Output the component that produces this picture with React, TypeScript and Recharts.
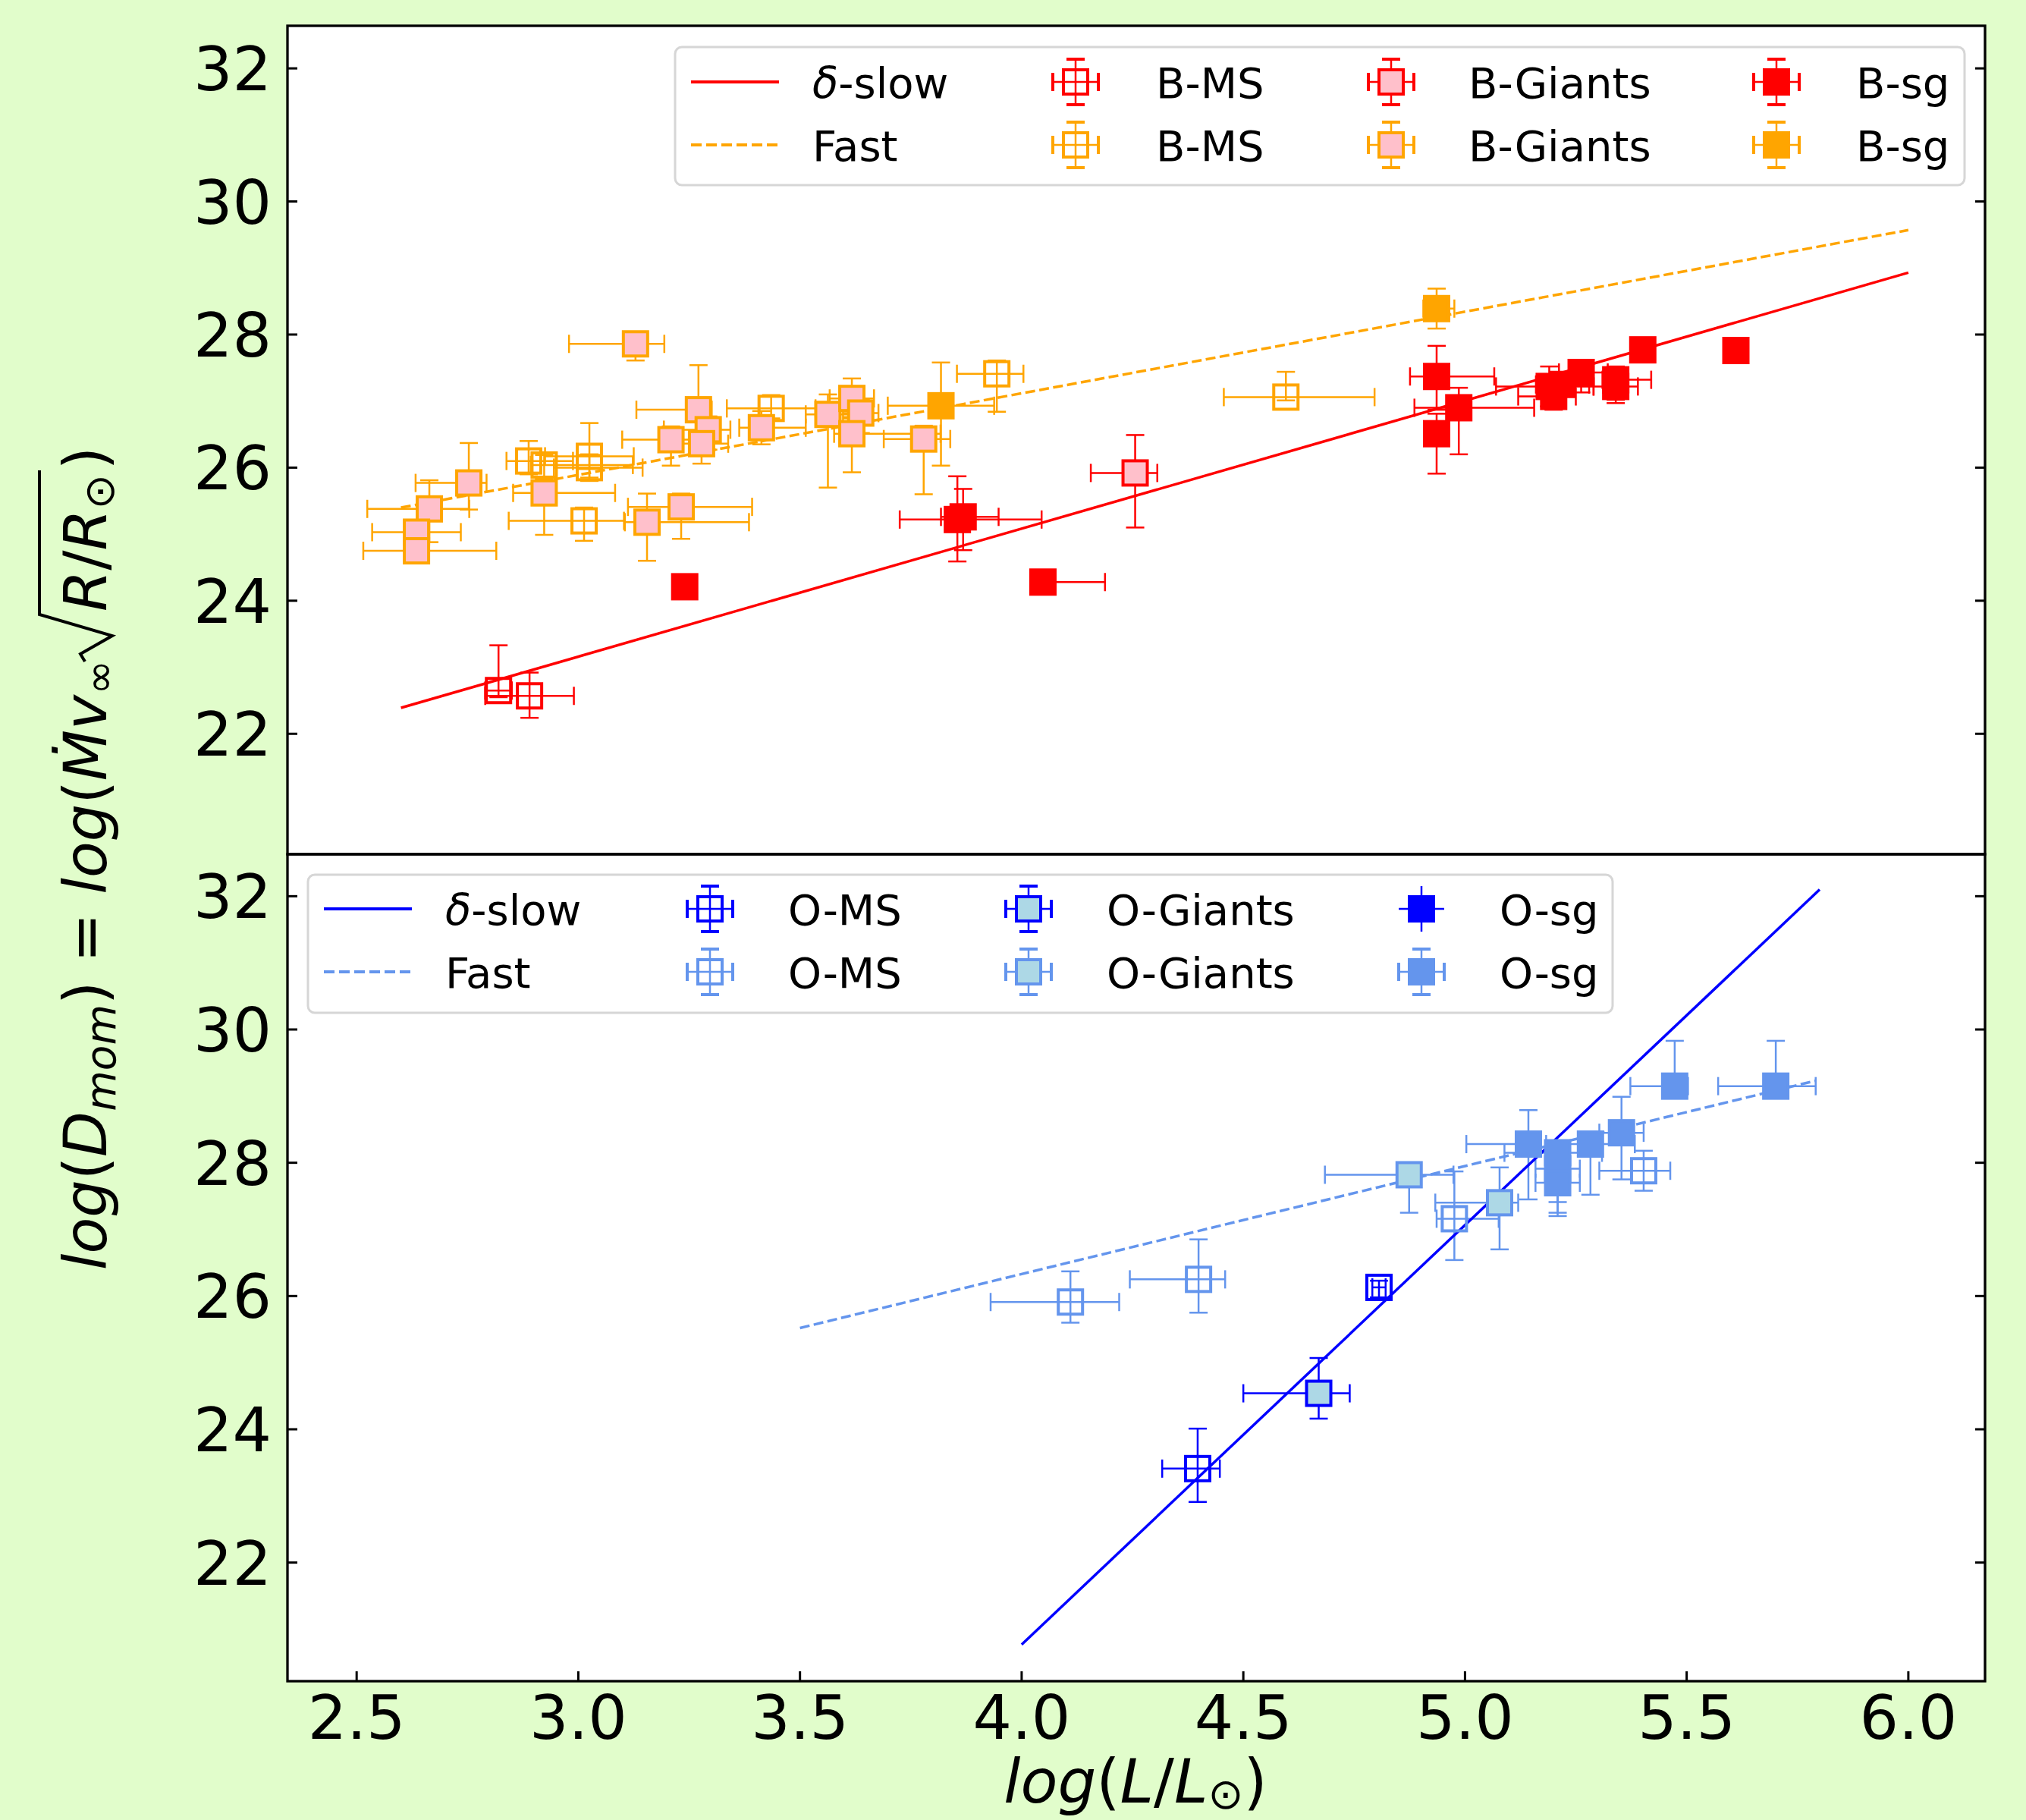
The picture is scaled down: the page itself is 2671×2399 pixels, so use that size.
import React from "react"
import { ScatterChart, Scatter, XAxis, YAxis, ErrorBar } from "recharts"

// x, y, x-err low, x-err high, y-err low, y-err high
type Pt = [number, number, number, number, number, number]

const xTicks = [2.5, 3.0, 3.5, 4.0, 4.5, 5.0, 5.5, 6.0]
const yTicks = [22, 24, 26, 28, 30, 32]

// fitted relations, endpoints
const bSlowFit = [[2.6, 22.39], [6.0, 28.93]]
const bFastFit = [[2.6, 25.4], [6.0, 29.57]]
const oSlowFit = [[4.0, 20.77], [5.8, 32.1]]
const oFastFit = [[3.5, 25.52], [5.79, 29.23]]

const bMsSlow: Pt[] = [
  [2.82, 22.65, 0.03, 0.03, 0.1, 0.68],
  [2.89, 22.57, 0.1, 0.1, 0.33, 0.35],
]
const bGiantSlow: Pt[] = [[4.256, 25.92, 0.1, 0.05, 0.82, 0.57]]
const bSgSlow: Pt[] = [
  [3.24, 24.21, 0, 0, 0, 0],
  [3.855, 25.22, 0.13, 0.19, 0.63, 0.65],
  [3.868, 25.26, 0.05, 0.08, 0.5, 0.42],
  [4.048, 24.28, 0, 0.14, 0, 0],
  [4.936, 27.37, 0.06, 0.13, 0.5, 0.46],
  [4.936, 26.51, 0.02, 0.02, 0.6, 0.3],
  [4.986, 26.9, 0.1, 0.17, 0.7, 0.3],
  [5.19, 27.22, 0.12, 0.1, 0.3, 0.3],
  [5.2, 27.07, 0.08, 0.05, 0.2, 0.2],
  [5.22, 27.25, 0.06, 0.06, 0.15, 0.15],
  [5.262, 27.43, 0.05, 0.06, 0.3, 0.1],
  [5.34, 27.32, 0.03, 0.08, 0.35, 0.2],
  [5.34, 27.22, 0.05, 0.05, 0.2, 0.1],
  [5.401, 27.77, 0, 0, 0, 0],
  [5.611, 27.76, 0, 0, 0, 0],
]
const bMsFast: Pt[] = [
  [2.888, 26.1, 0.05, 0.1, 0.2, 0.3],
  [2.923, 26.04, 0.03, 0.2, 0.2, 0.15],
  [3.025, 26.17, 0.1, 0.1, 0.32, 0.5],
  [3.025, 26.0, 0.08, 0.12, 0.2, 0.2],
  [3.013, 25.2, 0.17, 0.09, 0.3, 0.2],
  [3.435, 26.89, 0.1, 0.1, 0.15, 0.2],
  [3.944, 27.41, 0.09, 0.06, 0.57, 0.2],
  [4.596, 27.06, 0.14, 0.2, 0.05, 0.38],
]
const bGiantFast: Pt[] = [
  [3.129, 27.86, 0.15, 0.065, 0.25, 0.05],
  [3.271, 26.87, 0.14, 0.03, 0.5, 0.67],
  [3.293, 26.57, 0.1, 0.05, 0.3, 0.2],
  [3.209, 26.42, 0.11, 0.06, 0.39, 0.2],
  [3.278, 26.36, 0.05, 0.06, 0.3, 0.2],
  [3.413, 26.6, 0.05, 0.1, 0.25, 0.25],
  [3.563, 26.8, 0.05, 0.1, 1.1, 0.3],
  [3.617, 27.04, 0.05, 0.05, 0.3, 0.3],
  [3.637, 26.82, 0.04, 0.04, 0.3, 0.2],
  [3.617, 26.51, 0.04, 0.2, 0.58, 0.25],
  [3.779, 26.43, 0.09, 0.06, 0.83, 0.2],
  [2.753, 25.77, 0.12, 0.04, 0.4, 0.6],
  [2.664, 25.38, 0.14, 0.09, 0.5, 0.43],
  [2.635, 25.03, 0.1, 0.1, 0.1, 0.1],
  [2.635, 24.75, 0.12, 0.18, 0.05, 0.05],
  [2.923, 25.62, 0.07, 0.16, 0.63, 0.2],
  [3.155, 25.18, 0.05, 0.23, 0.58, 0.43],
  [3.232, 25.41, 0.12, 0.16, 0.48, 0.2],
]
const bSgFast: Pt[] = [
  [3.818, 26.93, 0.12, 0.12, 0.9, 0.65],
  [4.936, 28.39, 0.03, 0.04, 0.3, 0.3],
]

const oMsSlow: Pt[] = [
  [4.397, 23.41, 0.08, 0.05, 0.5, 0.6],
  [4.806, 26.13, 0.015, 0.015, 0.15, 0.1],
]
const oGiantSlow: Pt[] = [[4.67, 24.54, 0.17, 0.07, 0.38, 0.53]]
const oSgSlow: Pt[] = []
const oMsFast: Pt[] = [
  [4.11, 25.91, 0.18, 0.11, 0.31, 0.46],
  [4.399, 26.25, 0.155, 0.06, 0.5, 0.6],
  [4.976, 27.16, 0.04, 0.1, 0.62, 0.71],
  [5.403, 27.88, 0.1, 0.06, 0.3, 0.3],
]
const oGiantFast: Pt[] = [
  [4.874, 27.82, 0.19, 0.1, 0.57, 0.1],
  [5.078, 27.4, 0.145, 0.042, 0.7, 0.53],
]
const oSgFast: Pt[] = [
  [5.473, 29.15, 0.1, 0.03, 0.05, 0.68],
  [5.701, 29.15, 0.13, 0.09, 0.05, 0.68],
  [5.143, 28.28, 0.14, 0.02, 0.83, 0.51],
  [5.283, 28.28, 0.1, 0.1, 0.76, 0.1],
  [5.353, 28.45, 0.05, 0.05, 0.7, 0.54],
  [5.209, 28.15, 0.12, 0.1, 0.9, 0.1],
  [5.209, 27.91, 0.05, 0.05, 0.5, 0.1],
  [5.209, 27.7, 0.05, 0.05, 0.5, 0.1],
]

const topLegendLabels = ["B-MS", "B-Giants", "B-sg"]
const bottomLegendLabels = ["O-MS", "O-Giants", "O-sg"]

const W = 2671
const H = 2399
const FONT = "'DejaVu Sans', sans-serif"
const PLOT_L = 379
const PLOT_R = 2617
const PLOT_W = PLOT_R - PLOT_L
const MID = 1126
const X_DOMAIN = [2.344, 6.173]

const RED = "#ff0000"
const ORANGE = "#ffa500"
const PINK = "#ffc0cb"
const BLUE = "#0000ff"
const CORN = "#6495ed"
const LBLUE = "#add8e6"

const rows = (pts: Pt[]) =>
  pts.map(([x, y, xl, xh, yl, yh]) => ({ x, y, xe: [xl, xh], ye: [yl, yh] }))

const square = (edge: string, fill: string) => (props: any) => {
  const { cx, cy } = props
  if (cx == null || cy == null) return <g />
  return <rect x={cx - 16} y={cy - 16} width={32} height={32} fill={fill} stroke={edge} strokeWidth={4} />
}

const YTick = (props: any) => {
  const { x, y, payload } = props
  return (
    <g>
      <line x1={x} x2={x + 13} y1={y} y2={y} stroke="#000" strokeWidth={3} />
      <line x1={x + PLOT_W} x2={x + PLOT_W - 13} y1={y} y2={y} stroke="#000" strokeWidth={3} />
      <text x={x - 21} y={y + 29} textAnchor="end" fontSize={81} fontFamily={FONT} fill="#000">
        {payload.value}
      </text>
    </g>
  )
}

const XTick = (props: any) => {
  const { x, y, payload } = props
  return (
    <g>
      <line x1={x} x2={x} y1={y} y2={y - 13} stroke="#000" strokeWidth={3} />
      <text x={x} y={y + 76} textAnchor="middle" fontSize={81} fontFamily={FONT} fill="#000">
        {Number(payload.value).toFixed(1)}
      </text>
    </g>
  )
}

type Series = { data: Pt[]; edge: string; fill: string }
type Fit = { pts: number[][]; color: string; dash?: string }

function Panel({ top, height, marginTop, yDomain, series, fits, showX }: {
  top: number; height: number; marginTop: number; yDomain: number[]
  series: Series[]; fits: Fit[]; showX: boolean
}) {
  return (
    <div style={{ position: "absolute", left: 0, top, width: W, height }}>
      <ScatterChart width={W} height={height} margin={{ top: marginTop, right: W - PLOT_R, bottom: 0, left: 0 }}>
        <XAxis type="number" dataKey="x" domain={X_DOMAIN} ticks={xTicks} hide={!showX} height={183}
          axisLine={false} tickLine={false} tickSize={0} tickMargin={0} interval={0} tick={XTick} />
        <YAxis type="number" dataKey="y" domain={yDomain} ticks={yTicks} width={PLOT_L}
          axisLine={false} tickLine={false} tickSize={0} tickMargin={0} interval={0} tick={YTick} />
        {fits.map((f, i) => (
          <Scatter key={"fit" + i} data={f.pts.map(([x, y]) => ({ x, y }))} fill={f.color}
            line={{ stroke: f.color, strokeWidth: 3.5, strokeDasharray: f.dash }}
            shape={() => <g />} isAnimationActive={false} legendType="none" />
        ))}
        {series.map((s, i) => (
          <Scatter key={"s" + i} data={rows(s.data)} fill={s.edge} shape={square(s.edge, s.fill)}
            isAnimationActive={false} legendType="none">
            <ErrorBar dataKey="xe" direction="x" width={12} stroke={s.edge} strokeWidth={2.5} isAnimationActive={false} />
            <ErrorBar dataKey="ye" direction="y" width={12} stroke={s.edge} strokeWidth={2.5} isAnimationActive={false} />
          </Scatter>
        ))}
      </ScatterChart>
    </div>
  )
}

function LegendMarker({ cx, cy, edge, fill, caps = true }: { cx: number; cy: number; edge: string; fill: string; caps?: boolean }) {
  return (
    <g>
      <line x1={cx - 30} x2={cx + 30} y1={cy} y2={cy} stroke={edge} strokeWidth={2.5} />
      <line x1={cx} x2={cx} y1={cy - 30} y2={cy + 30} stroke={edge} strokeWidth={2.5} />
      {caps && (
        <g stroke={edge} strokeWidth={4}>
          <line x1={cx - 30} x2={cx - 30} y1={cy - 12} y2={cy + 12} />
          <line x1={cx + 30} x2={cx + 30} y1={cy - 12} y2={cy + 12} />
          <line x1={cx - 12} x2={cx + 12} y1={cy - 30} y2={cy - 30} />
          <line x1={cx - 12} x2={cx + 12} y1={cy + 30} y2={cy + 30} />
        </g>
      )}
      <rect x={cx - 16} y={cy - 16} width={32} height={32} fill={fill} stroke={edge} strokeWidth={4} />
    </g>
  )
}

function LegendBlock({ box, rowsY, lineX, textX, markX, labelX, slow, fast, markers, labels }: {
  box: number[]; rowsY: number[]; lineX: number[]; textX: number; markX: number[]; labelX: number[]
  slow: string; fast: string; markers: { edge: string; fill: string; caps?: boolean }[][]; labels: string[]
}) {
  const [bx, by, bw, bh] = box
  return (
    <g>
      <rect x={bx} y={by} width={bw} height={bh} rx={9} fill="#fff" stroke="#d6d6d6" strokeWidth={3} />
      <line x1={lineX[0]} x2={lineX[1]} y1={rowsY[0]} y2={rowsY[0]} stroke={slow} strokeWidth={4} />
      <line x1={lineX[0]} x2={lineX[1]} y1={rowsY[1]} y2={rowsY[1]} stroke={fast} strokeWidth={4} strokeDasharray="14 6" />
      <text x={textX} y={rowsY[0] + 21} fontSize={56} fontFamily={FONT}>
        <tspan fontStyle="italic">δ</tspan>-slow
      </text>
      <text x={textX} y={rowsY[1] + 21} fontSize={56} fontFamily={FONT}>Fast</text>
      {markers.map((col, c) =>
        col.map((m, r) => (
          <g key={c + "-" + r}>
            <LegendMarker cx={markX[c]} cy={rowsY[r]} edge={m.edge} fill={m.fill} caps={m.caps} />
            <text x={labelX[c]} y={rowsY[r] + 21} fontSize={56} fontFamily={FONT}>{labels[c]}</text>
          </g>
        ))
      )}
    </g>
  )
}

export default function App() {
  const topSeries: Series[] = [
    { data: bMsFast, edge: ORANGE, fill: "none" },
    { data: bGiantFast, edge: ORANGE, fill: PINK },
    { data: bSgFast, edge: ORANGE, fill: ORANGE },
    { data: bMsSlow, edge: RED, fill: "none" },
    { data: bGiantSlow, edge: RED, fill: PINK },
    { data: bSgSlow, edge: RED, fill: RED },
  ]
  const bottomSeries: Series[] = [
    { data: oMsFast, edge: CORN, fill: "none" },
    { data: oGiantFast, edge: CORN, fill: LBLUE },
    { data: oSgFast, edge: CORN, fill: CORN },
    { data: oMsSlow, edge: BLUE, fill: "none" },
    { data: oGiantSlow, edge: BLUE, fill: LBLUE },
    { data: oSgSlow, edge: BLUE, fill: BLUE },
  ]
  return (
    <div style={{ position: "relative", width: W, height: H, background: "#e1fdcb", overflow: "hidden" }}>
      <style>{"body{margin:0}"}</style>
      <div style={{ position: "absolute", left: PLOT_L, top: 34, width: PLOT_W, height: 2216 - 34, background: "#fff" }} />
      <Panel top={0} height={MID} marginTop={34} yDomain={[20.19, 32.64]} showX={false}
        series={topSeries}
        fits={[{ pts: bFastFit, color: ORANGE, dash: "13 5.6" }, { pts: bSlowFit, color: RED }]} />
      <Panel top={1100} height={H - 1100} marginTop={MID - 1100} yDomain={[20.22, 32.63]} showX={true}
        series={bottomSeries}
        fits={[{ pts: oFastFit, color: CORN, dash: "13 5.6" }, { pts: oSlowFit, color: BLUE }]} />
      <svg width={W} height={H} style={{ position: "absolute", left: 0, top: 0, pointerEvents: "none" }}>
        <rect x={PLOT_L} y={34} width={PLOT_W} height={MID - 34} fill="none" stroke="#000" strokeWidth={3.3} />
        <rect x={PLOT_L} y={MID} width={PLOT_W} height={2216 - MID} fill="none" stroke="#000" strokeWidth={3.3} />
        <LegendBlock box={[890, 62, 1700, 182]} rowsY={[108, 191]} lineX={[911, 1027]} textX={1071}
          markX={[1418, 1834, 2342]} labelX={[1524, 1936, 2447]} slow={RED} fast={ORANGE} labels={topLegendLabels}
          markers={[
            [{ edge: RED, fill: "none" }, { edge: ORANGE, fill: "none" }],
            [{ edge: RED, fill: PINK }, { edge: ORANGE, fill: PINK }],
            [{ edge: RED, fill: RED }, { edge: ORANGE, fill: ORANGE }],
          ]} />
        <LegendBlock box={[406, 1153, 1720, 182]} rowsY={[1198, 1281]} lineX={[427, 543]} textX={587}
          markX={[936, 1356, 1874]} labelX={[1039, 1459, 1977]} slow={BLUE} fast={CORN} labels={bottomLegendLabels}
          markers={[
            [{ edge: BLUE, fill: "none" }, { edge: CORN, fill: "none" }],
            [{ edge: BLUE, fill: LBLUE }, { edge: CORN, fill: LBLUE }],
            [{ edge: BLUE, fill: BLUE, caps: false }, { edge: CORN, fill: CORN }],
          ]} />
        <text x={1497} y={2376} textAnchor="middle" fontSize={80} fontFamily={FONT}>
          <tspan fontStyle="italic">log</tspan>(<tspan fontStyle="italic">L</tspan>/<tspan fontStyle="italic">L</tspan>
          <tspan fontSize={56} dy={8}>⊙</tspan>
          <tspan dy={-8}>)</tspan>
        </text>
        <g transform="translate(140,1128) rotate(-90)">
          <text x={258} y={0} textAnchor="end" fontSize={78} fontFamily={FONT}>
            <tspan fontStyle="italic">log</tspan>
            <tspan>(</tspan>
            <tspan fontStyle="italic">D</tspan>
            <tspan fontStyle="italic" fontSize={55} dy={12}>mom</tspan>
            <tspan dy={-12}>{") = "}</tspan>
            <tspan fontStyle="italic">log</tspan>
            <tspan>(</tspan>
            <tspan fontStyle="italic">Ṁv</tspan>
            <tspan fontSize={55} dy={10}>∞</tspan>
          </text>
          <path d="M 256 -28 L 266 -34 L 290 8 L 318 -88 L 508 -88" fill="none" stroke="#000" strokeWidth={4} />
          <text x={322} y={0} textAnchor="start" fontSize={78} fontFamily={FONT}>
            <tspan fontStyle="italic">R</tspan>
            <tspan>/</tspan>
            <tspan fontStyle="italic">R</tspan>
            <tspan fontSize={55} dy={10}>⊙</tspan>
            <tspan dy={-10} dx={6}>)</tspan>
          </text>
        </g>
      </svg>
    </div>
  )
}
